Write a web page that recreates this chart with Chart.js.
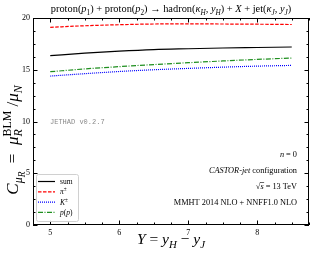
<!DOCTYPE html>
<html>
<head>
<meta charset="utf-8">
<script src="https://cdn.jsdelivr.net/npm/chart.js@4"></script>
<style>
  body { margin: 0; background: #fff; }
  canvas { display: block; }
</style>
</head>
<body>
<canvas id="chart" width="316" height="256"></canvas>
<script>
const rapidity = [5, 5.5, 6, 6.5, 7, 7.5, 8, 8.5];
const sumValues = [16.36, 16.6, 16.8, 16.95, 17.03, 17.1, 17.15, 17.2];
const pionValues = [19.1, 19.25, 19.35, 19.42, 19.43, 19.42, 19.4, 19.37];
const kaonValues = [14.39, 14.62, 14.83, 15.0, 15.13, 15.25, 15.35, 15.42];
const protonValues = [14.81, 15.08, 15.3, 15.5, 15.68, 15.85, 16.0, 16.13];
const xTicks = [5, 6, 7, 8];
const yTicks = [0, 5, 10, 15, 20];

const SERIF = "'Liberation Serif', 'DejaVu Serif', serif";

function toPoints(values) {
  return values.map((v, i) => ({ x: rapidity[i], y: v }));
}

// lay out a row of text pieces (italic / sub / sup)
function layout(ctx, parts, size) {
  let x = 0, pending = 0;
  const items = [];
  parts.forEach(p => {
    const f = p.pos === "sub" || p.pos === "sup" ? 0.7 : p.pos === "subsub" ? 0.55 : 1;
    const fs = size * f;
    ctx.font = (p.it ? "italic " : "") + fs + "px " + SERIF;
    const w = ctx.measureText(p.t).width;
    let dy = 0;
    if (p.pos === "sub") dy = size * 0.25;
    if (p.pos === "sup") dy = -size * 0.38;
    if (p.pos === "subsub") dy = size * 0.42;
    items.push({ p, x, fs, dy, w });
    if (p.keep) {
      pending = Math.max(pending, w);
    } else {
      x += Math.max(w, pending);
      pending = 0;
    }
  });
  return { items, width: x };
}
function richWidth(ctx, parts, size) {
  return layout(ctx, parts, size).width;
}
function drawRich(ctx, parts, size, x0, y0, color) {
  const l = layout(ctx, parts, size);
  ctx.fillStyle = color || "#000";
  ctx.textBaseline = "alphabetic";
  ctx.textAlign = "left";
  l.items.forEach(it => {
    ctx.font = (it.p.it ? "italic " : "") + it.fs + "px " + SERIF;
    ctx.fillText(it.p.t, x0 + it.x, y0 + it.dy);
  });
  return l;
}

const decorations = {
  id: "decorations",
  afterDraw(chart) {
    const ctx = chart.ctx;
    const a = chart.chartArea;
    const xs = chart.scales.x, ys = chart.scales.y;
    ctx.save();

    // frame
    ctx.strokeStyle = "#000";
    ctx.lineWidth = 1;
    ctx.strokeRect(a.left + 0.5, a.top + 0.5, a.right - a.left - 1, a.bottom - a.top - 1);

    // inward ticks on all sides
    ctx.beginPath();
    for (let v = 4.75; v <= 8.751; v += 0.25) {
      const px = Math.round(xs.getPixelForValue(v)) + 0.5;
      const len = Math.abs(v - Math.round(v)) < 1e-6 ? 4.5 : 2.5;
      ctx.moveTo(px, a.bottom); ctx.lineTo(px, a.bottom - len);
      ctx.moveTo(px, a.top); ctx.lineTo(px, a.top + len);
    }
    for (let v = 0; v <= 20.001; v += 1.25) {
      const py = Math.round(ys.getPixelForValue(v)) + 0.5;
      const len = Math.abs(v / 5 - Math.round(v / 5)) < 1e-6 ? 4.5 : 2.5;
      ctx.moveTo(a.left, py); ctx.lineTo(a.left + len, py);
      ctx.moveTo(a.right, py); ctx.lineTo(a.right - len, py);
    }
    ctx.stroke();

    // title
    const title = [
      { t: "proton(" }, { t: "p", it: 1 }, { t: "1", pos: "sub" },
      { t: ") + proton(" }, { t: "p", it: 1 }, { t: "2", pos: "sub" },
      { t: ") → hadron(" }, { t: "κ", it: 1 }, { t: "H", it: 1, pos: "sub" },
      { t: ", " }, { t: "y", it: 1 }, { t: "H", it: 1, pos: "sub" },
      { t: ") + " }, { t: "X", it: 1 }, { t: " + jet(" },
      { t: "κ", it: 1 }, { t: "J", it: 1, pos: "sub" },
      { t: ", " }, { t: "y", it: 1 }, { t: "J", it: 1, pos: "sub" }, { t: ")" }
    ];
    const ts = 10.4;
    const tw = richWidth(ctx, title, ts);
    drawRich(ctx, title, ts, (a.left + a.right) / 2 - tw / 2, 12);

    // x axis label
    const xl = [
      { t: "Y", it: 1 }, { t: " = " }, { t: "y", it: 1 }, { t: "H", it: 1, pos: "sub" },
      { t: " − " }, { t: "y", it: 1 }, { t: "J", it: 1, pos: "sub" }
    ];
    const xsz = 15.5;
    const xw = richWidth(ctx, xl, xsz);
    drawRich(ctx, xl, xsz, 171 - xw / 2, 244);

    // y axis label
    const yl = [
      { t: "C", it: 1 }, { t: "μ", it: 1, pos: "sub" }, { t: "R", it: 1, pos: "subsub" },
      { t: "\u2002=\u2002" }, { t: "μ", it: 1 },
      { t: "R", it: 1, pos: "sub", keep: 1 }, { t: "BLM", pos: "sup" },
      { t: " /" }, { t: "μ", it: 1 }, { t: "N", it: 1, pos: "sub" }
    ];
    const ysz = 17;
    const yw = richWidth(ctx, yl, ysz);
    ctx.save();
    ctx.translate(17.5, 140);
    ctx.rotate(-Math.PI / 2);
    drawRich(ctx, yl, ysz, -yw / 2, 0);
    ctx.restore();

    // JETHAD tag
    ctx.font = "7px 'Liberation Mono', 'DejaVu Sans Mono', monospace";
    ctx.fillStyle = "#8a8a8a";
    ctx.textBaseline = "middle";
    ctx.textAlign = "left";
    ctx.fillText("JETHAD v0.2.7", 50, 122);

    // annotations, right aligned
    const rx = 297, as = 8.3;
    const notes = [
      { y: 157, parts: [{ t: "n", it: 1 }, { t: " = 0" }] },
      { y: 173, parts: [{ t: "CASTOR", it: 1 }, { t: "-" }, { t: "jet", it: 1 }, { t: " configuration" }] },
      { y: 189, parts: [{ t: "√" }, { t: "s", it: 1 }, { t: " = 13 TeV" }] },
      { y: 205, parts: [{ t: "MMHT 2014 NLO + NNFF1.0 NLO" }] }
    ];
    notes.forEach(n => {
      const w = richWidth(ctx, n.parts, as);
      const l = drawRich(ctx, n.parts, as, rx - w, n.y);
      if (n.parts[0].t === "√") {
        const s = l.items[1];
        ctx.beginPath();
        ctx.lineWidth = 0.6;
        ctx.strokeStyle = "#000";
        ctx.moveTo(rx - w + s.x - 0.5, n.y - 6.5);
        ctx.lineTo(rx - w + s.x + s.w + 0.5, n.y - 6.5);
        ctx.stroke();
      }
    });

    // legend
    const bx = 36, by = 174, bw = 42, bh = 47;
    ctx.beginPath();
    ctx.roundRect(bx + 0.5, by + 0.5, bw, bh, 2);
    ctx.fillStyle = "rgba(255,255,255,0.85)";
    ctx.fill();
    ctx.strokeStyle = "#d0d0d0";
    ctx.lineWidth = 1;
    ctx.stroke();
    const labels = [
      [{ t: "sum" }],
      [{ t: "π", it: 1 }, { t: "±", pos: "sup" }],
      [{ t: "K", it: 1 }, { t: "±", pos: "sup" }],
      [{ t: "p", it: 1 }, { t: "(" }, { t: "p", it: 1 }, { t: ")" }]
    ];
    const rows = [181.5, 191.8, 202.1, 212.4];
    chart.data.datasets.forEach((ds, i) => {
      ctx.beginPath();
      ctx.strokeStyle = ds.borderColor;
      ctx.lineWidth = ds.borderWidth;
      ctx.setLineDash(ds.borderDash || []);
      ctx.moveTo(38, rows[i]);
      ctx.lineTo(55, rows[i]);
      ctx.stroke();
      ctx.setLineDash([]);
      drawRich(ctx, labels[i], 7.5, 60, rows[i] + 2.5);
    });

    ctx.restore();
  }
};

new Chart(document.getElementById("chart"), {
  type: "line",
  data: {
    datasets: [
      { label: "sum", data: toPoints(sumValues), borderColor: "#000000", borderWidth: 1.2 },
      { label: "π±", data: toPoints(pionValues), borderColor: "#ff0000", borderWidth: 1.2, borderDash: [3.5, 1.5] },
      { label: "K±", data: toPoints(kaonValues), borderColor: "#0000ff", borderWidth: 1.2, borderDash: [1, 1] },
      { label: "p(p)", data: toPoints(protonValues), borderColor: "#1f8f1f", borderWidth: 1.2, borderDash: [5, 1.5, 1, 1.5] }
    ]
  },
  options: {
    responsive: false,
    animation: false,
    devicePixelRatio: 1,
    layout: { padding: { left: 0, top: 18, right: 7, bottom: 0 } },
    elements: {
      point: { radius: 0 },
      line: { cubicInterpolationMode: "monotone", fill: false }
    },
    plugins: { legend: { display: false }, tooltip: { enabled: false } },
    scales: {
      x: {
        type: "linear",
        min: 4.75,
        max: 8.75,
        afterBuildTicks: s => { s.ticks = xTicks.map(v => ({ value: v })); },
        afterFit: s => { s.height = 31; },
        grid: { display: false, drawTicks: false },
        border: { display: false },
        ticks: { font: { family: SERIF, size: 8 }, color: "#000", padding: 3, maxRotation: 0 }
      },
      y: {
        min: 0,
        max: 20,
        afterBuildTicks: s => { s.ticks = yTicks.map(v => ({ value: v })); },
        afterFit: s => { s.width = 33; },
        grid: { display: false, drawTicks: false },
        border: { display: false },
        ticks: { font: { family: SERIF, size: 8 }, color: "#000", padding: 3 }
      }
    }
  },
  plugins: [decorations]
});
</script>
</body>
</html>
